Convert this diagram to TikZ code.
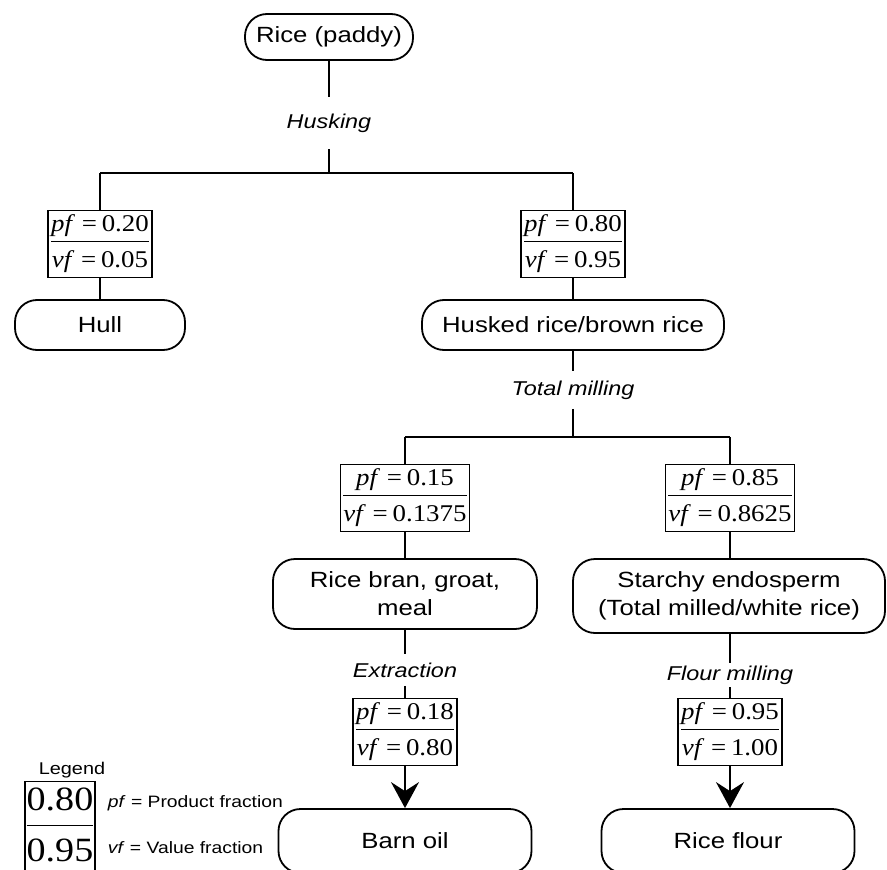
\documentclass[tikz,border=0pt]{standalone}
\usepackage{fontspec}
\setmainfont{Liberation Sans}[FakeStretch=1.17]
\newfontfamily\tm{Liberation Serif}[FakeStretch=1.12]
\usetikzlibrary{arrows.meta}
\newcommand{\fsz}[2]{\fontsize{#1}{#2}\selectfont}
\setlength{\arrayrulewidth}{1pt}
\newcommand{\pv}[2]{{\tm\fsz{24}{28}\begin{tabular}{@{}c@{}}\textit{pf}\hspace{0.28em}=\hspace{0.2em}#1\\[1pt]\hline\rule{0pt}{25pt}\textit{vf}\hspace{0.28em}=\hspace{0.2em}#2\end{tabular}}}
\begin{document}
\begin{tikzpicture}[x=1pt,y=-1pt,line width=1.8pt,
  proc/.style={draw, rounded corners=22pt, align=center, inner sep=0pt, font=\fsz{22}{28}},
  pvb/.style={draw, inner xsep=3pt, inner ysep=1pt, minimum height=67pt},
  lbl/.style={font=\fsz{20}{24}\itshape, inner sep=0pt},
  arr/.style={-{Stealth[length=26pt,width=28pt,inset=9pt]}}]
\useasboundingbox (0,0) rectangle (887,870);

% level 0
\node[proc, minimum width=168pt, minimum height=46pt] (rice) at (329,37) {Rice (paddy)};
\node[lbl, minimum height=51pt] (husk) at (329,123) {Husking};
\coordinate (h1) at (329,173);
\coordinate (h1l) at (100,173);
\coordinate (h1r) at (573,173);

% level 1
\node[pvb] (f1) at (100,244) {\pv{0.20}{0.05}};
\node[pvb] (f2) at (573,244) {\pv{0.80}{0.95}};
\node[proc, minimum width=170pt, minimum height=50pt] (hull) at (100,325) {Hull};
\node[proc, minimum width=302pt, minimum height=50pt] (husked) at (573,325) {Husked rice/brown rice};
\node[lbl, minimum height=36pt] (tmill) at (573,390) {Total milling};
\coordinate (h2) at (573,437);
\coordinate (h2l) at (405,437);
\coordinate (h2r) at (730,437);

% level 2
\node[pvb] (f3) at (405,498) {\pv{0.15}{0.1375}};
\node[pvb] (f4) at (730,498) {\pv{0.85}{0.8625}};
\node[proc, minimum width=264pt, minimum height=70pt] (bran) at (405,594) {Rice bran, groat,\\meal};
\node[proc, minimum width=312pt, minimum height=74pt] (starch) at (729,596) {Starchy endosperm\\(Total milled/white rice)};
\node[lbl, minimum height=30pt] (extr) at (405,670) {Extraction};
\node[lbl, minimum height=23pt] (flour) at (730,675) {Flour milling};

% level 3
\node[pvb] (f5) at (405,732) {\pv{0.18}{0.80}};
\node[pvb] (f6) at (730,732) {\pv{0.95}{1.00}};
\node[proc, minimum width=253pt, minimum height=64pt] (oil) at (405,841) {Barn oil};
\node[proc, minimum width=253pt, minimum height=64pt] (rflour) at (728,841) {Rice flour};

% connectors
\draw (rice) -- (husk);
\draw (husk) -- (h1);
\draw (h1l) -- (h1r);
\draw (h1l) -- (f1);
\draw (h1r) -- (f2);
\draw (f1) -- (hull);
\draw (f2) -- (husked);
\draw (husked) -- (tmill);
\draw (tmill) -- (h2);
\draw (h2l) -- (h2r);
\draw (h2l) -- (f3);
\draw (h2r) -- (f4);
\draw (f3) -- (bran);
\draw (f4) -- (f4 |- starch.north);
\draw (bran) -- (extr);
\draw (starch.south -| flour) -- (flour);
\draw (extr) -- (f5);
\draw (flour) -- (f6);
\draw[arr] (f5) -- (oil);
\draw[arr] (f6) -- (f6 |- rflour.north);

% legend
\node[font=\fsz{17}{20}, inner sep=0pt] (leg) at (72,770) {Legend};
\node[draw, inner xsep=2pt, inner ysep=1pt, minimum height=80pt] (legbox) at (60,828)
  {{\tm\fsz{34}{40}\begin{tabular}{@{}c@{}}0.80\\[2pt]\hline\rule{0pt}{36pt}0.95\end{tabular}}};
\node[font=\fsz{16.5}{20}, anchor=west, inner sep=0pt] (lpf) at (107,803) {\textit{pf} = Product fraction};
\node[font=\fsz{16.5}{20}, anchor=west, inner sep=0pt] (lvf) at (107,848) {\textit{vf} = Value fraction};
\end{tikzpicture}
\end{document}
